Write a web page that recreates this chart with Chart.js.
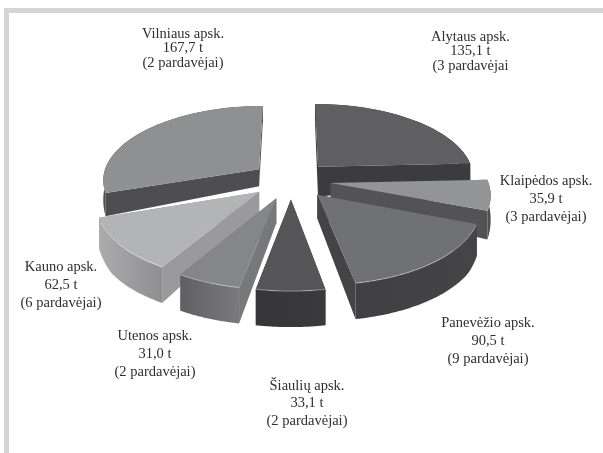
<!DOCTYPE html>
<html><head><meta charset="utf-8">
<script src="https://cdn.jsdelivr.net/npm/chart.js@4"></script>
<style>
html,body{margin:0;padding:0;background:#fff;width:603px;height:453px;overflow:hidden}
#frame{position:absolute;left:4px;top:8px;right:0;bottom:0;border-left:5px solid #d4d5d5;border-top:5px solid #d4d5d5}
#wrap{position:absolute;left:0;top:0;width:603px;height:453px;filter:blur(0.35px)}
</style></head><body>
<div id="frame"></div>
<div id="wrap"><canvas id="c" width="603" height="453"></canvas></div>
<script>
const categories = ['Alytaus apsk.','Klaipėdos apsk.','Panevėžio apsk.','Šiaulių apsk.','Utenos apsk.','Kauno apsk.','Vilniaus apsk.'];
const tonnes = [135.1,35.9,90.5,33.1,31.0,62.5,167.7];
const tonneLabels = ['135,1 t','35,9 t','90,5 t','33,1 t','31,0 t','62,5 t','167,7 t'];
const sellers = ['(3 pardavėjai','(3 pardavėjai)','(9 pardavėjai)','(2 pardavėjai)','(2 pardavėjai)','(6 pardavėjai)','(2 pardavėjai)'];
const topColors = ['#5f5f61','#929496','#707173','#555557','#858688','#b3b4b6','#8f9092'];
const rimStart = ['#3c3c3e','#555557','#454547','#3a3a3c','#7a7a7c','#8f8f91','#4e4e50'];
const rimEnd = ['#3c3c3e','#505052','#404042','#363638','#606062','#ababad','#4e4e50'];
const cutColors = ['#3c3c3e','#535355','#444446','#3a3a3c','#77787a','#9a9a9c','#4e4e50'];
const labelX = [470.5,546,488,307,155,61,183];
const labelY = [37,181,323,386,336,267,34];
const labelGap = [14.5,18,18,17.5,18,18,14.5];
const paintOrder = [6,0,1,5,2,4,3];
const tipExtra = [13,0,0,0,0,0,0];

const K = 0.13, TILT = 0.472, D0 = 17, D1 = 36;
function project(cx, cy, R, u, v){
  const w = 1/(1 - K*v/R);
  return {x: cx + u*w, y: cy + v*TILT*w, d: D0 + (D1-D0)*Math.min(1,Math.max(0,(v/R+0.1)/0.8))};
}
const pie3d = {
  id:'pie3d',
  beforeDatasetsDraw(chart){
    const ctx = chart.ctx, arcs = chart.getDatasetMeta(0).data;
    paintOrder.forEach(i=>{
      const el = arcs[i], off = el.options.offset/4, R = el.outerRadius;
      const mid = (el.startAngle+el.endAngle)/2;
      const ox = Math.cos(mid)*off, oy = Math.sin(mid)*off;
      const tip = project(el.x,el.y,R,ox,oy), rim = [];
      tip.d += tipExtra[i];
      const n = 48;
      for(let k=0;k<=n;k++){
        const a = el.startAngle + (el.endAngle-el.startAngle)*k/n;
        rim.push(project(el.x,el.y,R,ox+Math.cos(a)*R,oy+Math.sin(a)*R));
      }
      const extrude=(list,fill)=>{
        ctx.beginPath();
        list.forEach((p,k)=>k?ctx.lineTo(p.x,p.y):ctx.moveTo(p.x,p.y));
        list.slice().reverse().forEach(p=>ctx.lineTo(p.x,p.y+p.d));
        ctx.closePath();ctx.fillStyle=fill;ctx.fill();
      };
      ctx.save();
      extrude([tip,rim[0]],cutColors[i]);
      extrude([rim[n],tip],cutColors[i]);
      const g = ctx.createLinearGradient(rim[0].x,0,rim[n].x,0);
      g.addColorStop(0,rimStart[i]);g.addColorStop(1,rimEnd[i]);
      extrude(rim,g);
      ctx.beginPath();ctx.moveTo(tip.x,tip.y);
      rim.forEach(p=>ctx.lineTo(p.x,p.y));
      ctx.closePath();
      ctx.fillStyle=el.options.backgroundColor;ctx.fill();
      ctx.beginPath();let on=false;
      rim.forEach(p=>{ if(p.y>tip.y+30){ on?ctx.lineTo(p.x,p.y):ctx.moveTo(p.x,p.y); on=true; } });
      ctx.strokeStyle='rgba(255,255,255,0.4)';ctx.lineWidth=1;ctx.stroke();
      ctx.restore();
    });
    return false;
  },
  afterDraw(chart){
    const ctx = chart.ctx;
    ctx.save();
    ctx.font='14.5px "Liberation Serif"';
    ctx.fillStyle='#2e2e2e';ctx.textAlign='center';ctx.textBaseline='middle';
    categories.forEach((c,i)=>{
      [c,tonneLabels[i],sellers[i]].forEach((t,j)=>ctx.fillText(t,labelX[i],labelY[i]+j*labelGap[i]));
    });
    ctx.restore();
  }
};
new Chart(document.getElementById('c'),{
  type:'pie',
  data:{labels:categories,datasets:[{data:tonnes,backgroundColor:topColors,borderWidth:0,offset:160,radius:157}]},
  options:{responsive:false,animation:false,
    layout:{padding:{left:0,top:0,right:21,bottom:93}},
    plugins:{legend:{display:false},tooltip:{enabled:false}}},
  plugins:[pie3d]
});
</script>
</body></html>
